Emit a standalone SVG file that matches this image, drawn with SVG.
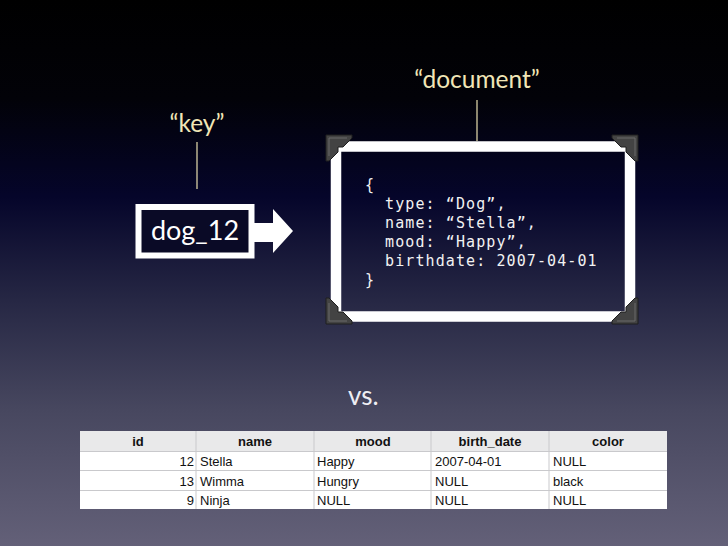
<svg xmlns="http://www.w3.org/2000/svg" width="728" height="546" viewBox="0 0 728 546">
<defs>
<linearGradient id="bg" x1="0" y1="0" x2="0" y2="1">
<stop offset="0" stop-color="#000000"/>
<stop offset="0.18" stop-color="#020208"/>
<stop offset="0.36" stop-color="#05052a"/>
<stop offset="0.55" stop-color="#262744"/>
<stop offset="0.75" stop-color="#47475f"/>
<stop offset="1" stop-color="#636078"/>
</linearGradient>
<g id="corner">
<path d="M0,0 L26,0 L26,3 L17,12 L12,12 L12,17 L3,26 L0,26 Z" fill="#434343" stroke="#1e1e1e" stroke-width="1"/>
<path d="M3,3 L21,3 M3,3 L3,21" stroke="#6a6a6a" stroke-width="1" fill="none"/>
</g>
</defs>
<style>
.lbl{font-family:Lato,"Open Sans","DejaVu Sans",sans-serif;font-size:24.5px;fill:#f1e6b6;text-anchor:middle}
.lead{stroke:#e9dfb0;stroke-width:1.2}
.code{font-family:"DejaVu Sans Mono","Liberation Mono",monospace;font-size:15px;fill:#f2f2f2;letter-spacing:1.1px}
.th{font-family:"Liberation Sans",Arial,sans-serif;font-size:13px;font-weight:bold;fill:#111;text-anchor:middle}
.td{font-family:"Liberation Sans",Arial,sans-serif;font-size:13px;fill:#111}
.num{text-anchor:end}
.grid{stroke:#c9c9cc;stroke-width:1}
</style>
<rect x="0" y="0" width="728" height="546" fill="url(#bg)"/>

<g id="key-label">
<text class="lbl" x="197" y="132">“key”</text>
</g>
<g id="document-label">
<text class="lbl" x="477" y="88">“document”</text>
</g>

<g id="key-node">
<rect x="138.5" y="207" width="113" height="48.5" fill="#0a0a26" stroke="#ffffff" stroke-width="6"/>
<text x="195" y="240" font-family="Lato,'Open Sans','DejaVu Sans',sans-serif" font-size="27" fill="#ffffff" text-anchor="middle">dog_12</text>
</g>

<g id="document-node">
<rect x="336" y="146.5" width="294" height="170" fill="none" stroke="#ffffff" stroke-width="10.5"/>
<use href="#corner" transform="translate(326,135)"/>
<use href="#corner" transform="translate(638,135) scale(-1,1)"/>
<use href="#corner" transform="translate(326,324) scale(1,-1)"/>
<use href="#corner" transform="translate(638,324) scale(-1,-1)"/>
<text class="code" x="365" y="190">{</text>
<text class="code" x="385" y="209">type: “Dog”,</text>
<text class="code" x="385" y="228">name: “Stella”,</text>
<text class="code" x="385" y="247">mood: “Happy”,</text>
<text class="code" x="385" y="266">birthdate: 2007-04-01</text>
<text class="code" x="365" y="285">}</text>
</g>

<g id="connectors">
<line class="lead" x1="197" y1="142" x2="197" y2="189"/>
<line class="lead" x1="477" y1="100" x2="477" y2="141"/>
<path d="M254,223 L273,223 L273,209 L293,231 L273,253 L273,242 L254,242 Z" fill="#ffffff"/>
</g>

<g id="vs">
<text x="348" y="405" font-family="Lato,'Open Sans','DejaVu Sans',sans-serif" font-size="26" fill="#eeeef4">vs.</text>
</g>

<g id="table">
<rect x="80" y="431" width="587" height="20.5" fill="#e9e9ea"/>
<rect x="80" y="451.5" width="587" height="57.5" fill="#ffffff"/>
<line class="grid" x1="80" y1="451.5" x2="667" y2="451.5"/>
<line class="grid" x1="80" y1="470.5" x2="667" y2="470.5"/>
<line class="grid" x1="80" y1="490.5" x2="667" y2="490.5"/>
<line class="grid" x1="196" y1="431" x2="196" y2="509"/>
<line class="grid" x1="314" y1="431" x2="314" y2="509"/>
<line class="grid" x1="431" y1="431" x2="431" y2="509"/>
<line class="grid" x1="549" y1="431" x2="549" y2="509"/>
<text class="th" x="138" y="446">id</text>
<text class="th" x="255" y="446">name</text>
<text class="th" x="373" y="446">mood</text>
<text class="th" x="490" y="446">birth_date</text>
<text class="th" x="608" y="446">color</text>
<text class="td num" x="194" y="466">12</text>
<text class="td" x="200" y="466">Stella</text>
<text class="td" x="317" y="466">Happy</text>
<text class="td" x="435" y="466">2007-04-01</text>
<text class="td" x="553" y="466">NULL</text>
<text class="td num" x="194" y="486">13</text>
<text class="td" x="200" y="486">Wimma</text>
<text class="td" x="317" y="486">Hungry</text>
<text class="td" x="435" y="486">NULL</text>
<text class="td" x="553" y="486">black</text>
<text class="td num" x="194" y="505">9</text>
<text class="td" x="200" y="505">Ninja</text>
<text class="td" x="317" y="505">NULL</text>
<text class="td" x="435" y="505">NULL</text>
<text class="td" x="553" y="505">NULL</text>
</g>
</svg>
